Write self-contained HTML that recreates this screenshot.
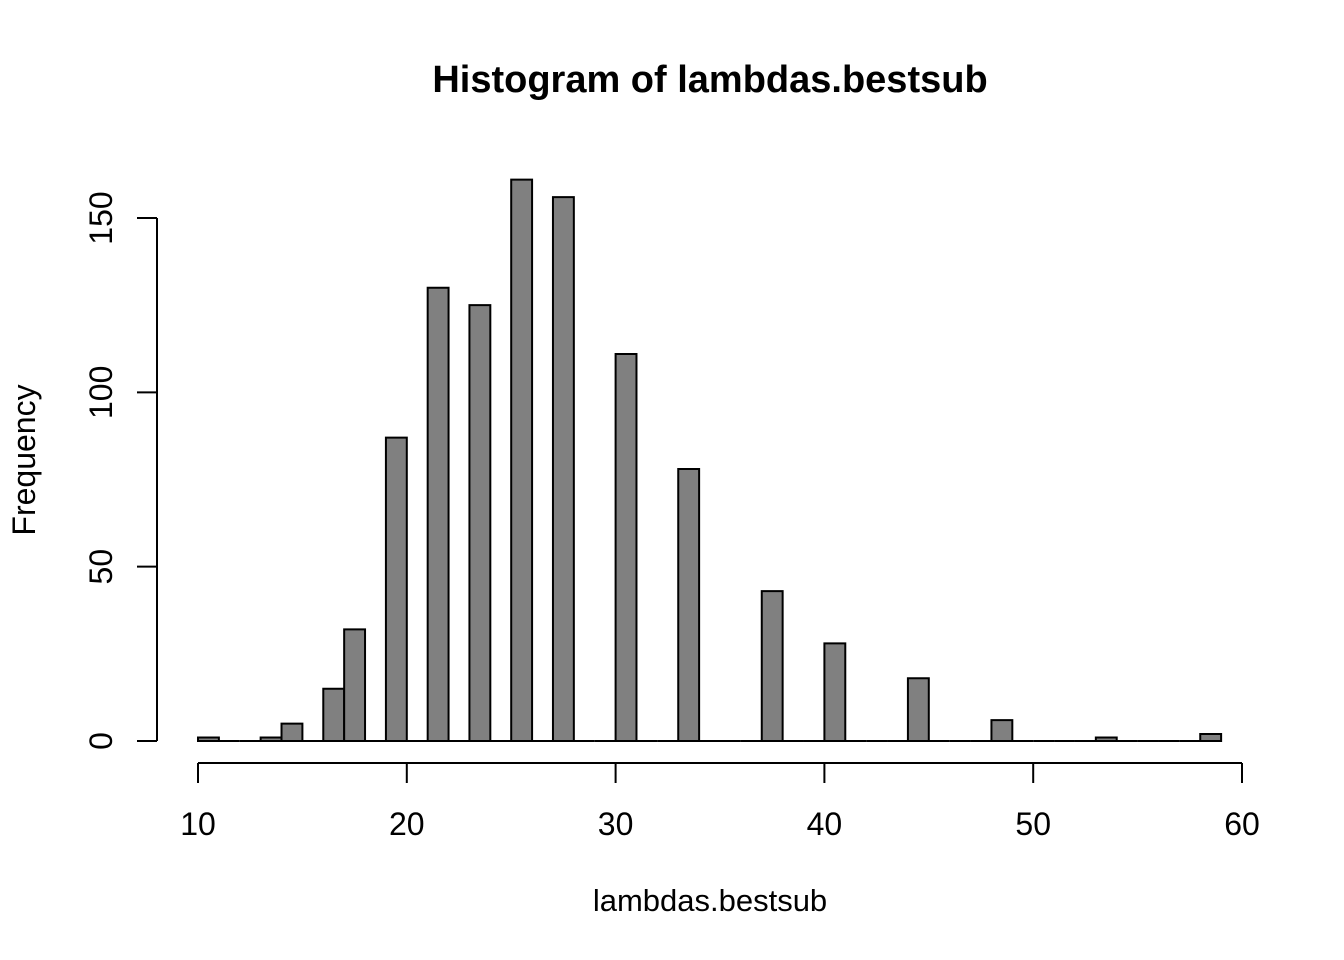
<!DOCTYPE html>
<html><head><meta charset="utf-8"><style>
body{margin:0;background:#fff;}
svg{display:block;font-family:"Liberation Sans",Arial,sans-serif;}
</style></head><body>
<svg id="chart" width="1344" height="960">
<text x="710" y="92" text-anchor="middle" font-size="38" font-weight="bold">Histogram of lambdas.bestsub</text>
<text x="710" y="911" text-anchor="middle" font-size="31">lambdas.bestsub</text>
<text transform="translate(35,460) rotate(-90)" text-anchor="middle" font-size="32">Frequency</text>
<g id="bars"></g><g id="axes"></g>
</svg>
<script>
const binStarts=[10,11,12,13,14,15,16,17,18,19,20,21,22,23,24,25,26,27,28,29,30,31,32,33,34,35,36,37,38,39,40,41,42,43,44,45,46,47,48,49,50,51,52,53,54,55,56,57,58];
const counts=[1,0,0,1,5,0,15,32,0,87,0,130,0,125,0,161,0,156,0,0,111,0,0,78,0,0,0,43,0,0,28,0,0,0,18,0,0,0,6,0,0,0,0,1,0,0,0,0,2];
const xTicks=[10,20,30,40,50,60];
const yTicks=[0,50,100,150];
const NS="http://www.w3.org/2000/svg";
const xs=v=>198+(v-10)*(1242-198)/50;
const ys=v=>741-v*(741-218)/150;
const bars=document.getElementById('bars'),axes=document.getElementById('axes');
function mk(t,a,p){const e=document.createElementNS(NS,t);for(const k in a)e.setAttribute(k,a[k]);p.appendChild(e);return e;}
binStarts.forEach((b,i)=>{
 const x0=xs(b),x1=xs(b+1),y0=ys(0),y1=ys(counts[i]);
 const r=mk('path',{d:`M${x0},${y0}L${x0},${y1}L${x1},${y1}L${x1},${y0}Z`,fill:'#808080',stroke:'#000','stroke-width':2},bars);
 
 
});
const xl=mk('line',{x1:xs(xTicks[0]),x2:xs(xTicks[xTicks.length-1]),y1:763,y2:763,stroke:'#000','stroke-width':2},axes);


xTicks.forEach(t=>{
 mk('line',{x1:xs(t),x2:xs(t),y1:763,y2:783,stroke:'#000','stroke-width':2},axes);
 const tx=mk('text',{x:xs(t),y:835,'text-anchor':'middle','font-size':32},axes);tx.textContent=t;
 
 
});
const yl=mk('line',{x1:157,x2:157,y1:ys(yTicks[0]),y2:ys(yTicks[yTicks.length-1]),stroke:'#000','stroke-width':2},axes);


yTicks.forEach(t=>{
 mk('line',{x1:137,x2:157,y1:ys(t),y2:ys(t),stroke:'#000','stroke-width':2},axes);
 const tx=mk('text',{transform:`translate(112,${ys(t)}) rotate(-90)`,'text-anchor':'middle','font-size':32},axes);tx.textContent=t;
 
 
});
</script>
</body></html>
